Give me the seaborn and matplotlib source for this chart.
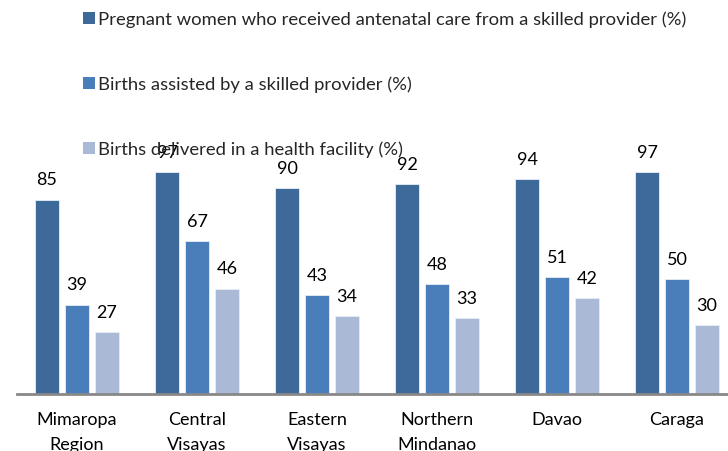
import matplotlib
matplotlib.use("Agg")
import matplotlib.pyplot as plt
import seaborn as sns
import pandas as pd
from matplotlib.patches import Patch

regions = ["Mimaropa\nRegion", "Central\nVisayas", "Eastern\nVisayas",
           "Northern\nMindanao", "Davao", "Caraga"]
series = ["Pregnant women who received antenatal care from a skilled provider (%)",
          "Births assisted by a skilled provider (%)",
          "Births delivered in a health facility (%)"]
antenatal = [85, 97, 90, 92, 94, 97]
assisted = [39, 67, 43, 48, 51, 50]
facility = [27, 46, 34, 33, 42, 30]
colors = ["#3E6A9A", "#4A7EBB", "#A9B9D6"]

rows = []
for s, vals in zip(series, [antenatal, assisted, facility]):
    for r, v in zip(regions, vals):
        rows.append({"region": r, "series": s, "value": v})
df = pd.DataFrame(rows)

sns.set_theme(style="white")
plt.rcParams["font.family"] = ["Lato", "DejaVu Sans"]

FS = 13

fig = plt.figure(figsize=(7.28, 4.51), dpi=100)
ax = fig.add_axes([17 / 728, 1 - 393.5 / 451, 720 / 728, 393.5 / 451])

sns.barplot(data=df, x="region", y="value", hue="series", order=regions,
            hue_order=series, palette=colors, saturation=1, width=0.75, gap=0.2,
            edgecolor="#E8EEF6", linewidth=0.6, ax=ax, legend=False)

for cont in ax.containers:
    ax.bar_label(cont, fmt="%d", padding=8, fontsize=FS, color="black")

ax.set_xlim(-0.5, 5.5)
ax.set_ylim(0, 172.5)
ax.set_xlabel("")
ax.set_ylabel("")
ax.set_yticks([])
for sp in ["top", "right", "left"]:
    ax.spines[sp].set_visible(False)
ax.spines["bottom"].set_color("#888888")
ax.spines["bottom"].set_linewidth(2)
ax.tick_params(axis="x", length=0, pad=13, labelsize=FS, colors="black")
for t in ax.get_xticklabels():
    t.set_linespacing(1.7)

handles = [Patch(facecolor=c, edgecolor="none") for c in colors]
fig.legend(handles, series, loc="upper left", bbox_to_anchor=(72 / 728, 1.0),
           frameon=False, fontsize=13.3, handlelength=0.62, handleheight=0.62,
           handletextpad=0.2, labelspacing=2.62, borderaxespad=0.2)

fig.savefig("out.png", dpi=100)
